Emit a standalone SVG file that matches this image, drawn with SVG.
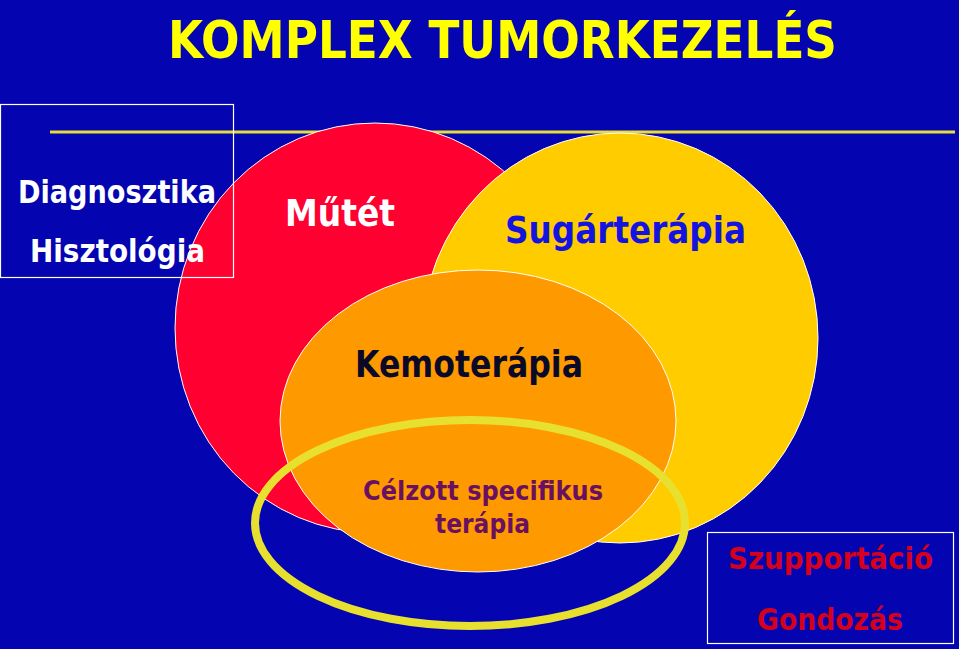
<svg xmlns="http://www.w3.org/2000/svg" width="959" height="649" viewBox="0 0 959 649">
<style>
.circ{stroke:#ffffff;stroke-width:1}
.t{font-family:"DejaVu Sans","Open Sans",sans-serif;font-weight:bold}
.box{fill:none;stroke:#ffffff;stroke-width:1.2}
</style>
<rect x="0" y="0" width="959" height="649" fill="#0404B0"/>
<line x1="50" y1="132" x2="955" y2="132" stroke="#E6DC3A" stroke-width="3"/>
<g id="mutet">
<ellipse class="circ" cx="375" cy="328" rx="200" ry="205" fill="#FF0030"/>
</g>
<g id="sugarterapia">
<ellipse class="circ" cx="620" cy="338" rx="198" ry="205" fill="#FFCC00"/>
</g>
<g id="kemoterapia">
<ellipse class="circ" cx="478" cy="421" rx="198" ry="151" fill="#FF9900"/>
</g>
<g id="celzott">
<ellipse cx="470" cy="523" rx="215" ry="103" fill="none" stroke="#E8E02E" stroke-width="8"/>
</g>
<g id="title">
<text class="t" x="168" y="58" font-size="52" fill="#FFFF00" textLength="669" lengthAdjust="spacingAndGlyphs">KOMPLEX TUMORKEZELÉS</text>
</g>
<g id="diagnosztika">
<rect class="box" x="0.5" y="104.5" width="233" height="173"/>
<text class="t" x="18" y="203" font-size="32" fill="#ffffff" textLength="198" lengthAdjust="spacingAndGlyphs">Diagnosztika</text>
<text class="t" x="30" y="262" font-size="32" fill="#ffffff" textLength="175" lengthAdjust="spacingAndGlyphs">Hisztológia</text>
</g>
<g id="labels">
<text class="t" x="285" y="226" font-size="37" fill="#ffffff" textLength="110" lengthAdjust="spacingAndGlyphs">Műtét</text>
<text class="t" x="505" y="243" font-size="38" fill="#1414E0" textLength="241" lengthAdjust="spacingAndGlyphs">Sugárterápia</text>
<text class="t" x="355" y="377" font-size="38" fill="#0A0A28" textLength="228" lengthAdjust="spacingAndGlyphs">Kemoterápia</text>
<text class="t" x="363" y="500" font-size="26" fill="#6A1060" textLength="240" lengthAdjust="spacingAndGlyphs">Célzott specifikus</text>
<text class="t" x="435" y="533" font-size="26" fill="#6A1060" textLength="95" lengthAdjust="spacingAndGlyphs">terápia</text>
</g>
<g id="szupportacio">
<rect class="box" x="707.5" y="532.5" width="246" height="111"/>
<text class="t" x="728" y="569" font-size="30" fill="#D4001C" textLength="205" lengthAdjust="spacingAndGlyphs">Szupportáció</text>
<text class="t" x="757" y="630" font-size="30" fill="#D4001C" textLength="146" lengthAdjust="spacingAndGlyphs">Gondozás</text>
</g>
</svg>
